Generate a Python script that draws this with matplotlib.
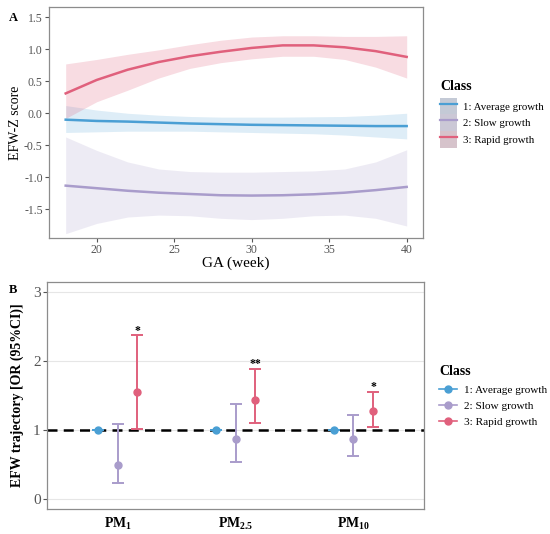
import numpy as np
import matplotlib
matplotlib.use("Agg")
import matplotlib.pyplot as plt
from matplotlib.lines import Line2D
from matplotlib.patches import Patch

plt.rcParams["font.family"] = ["Liberation Serif", "DejaVu Serif"]
plt.rcParams["mathtext.fontset"] = "custom"
plt.rcParams["mathtext.rm"] = "Liberation Serif"
plt.rcParams["mathtext.bf"] = "Liberation Serif:bold"

# ---- panel A data: smoothed EFW-Z trajectories ----
weeks = [18, 20, 22, 24, 26, 28, 30, 32, 34, 36, 38, 40]
avg_fit = [-0.10, -0.12, -0.13, -0.145, -0.16, -0.17, -0.18, -0.185, -0.19, -0.195, -0.20, -0.20]
avg_hi = [0.12, 0.05, 0.0, -0.03, -0.05, -0.06, -0.06, -0.06, -0.055, -0.05, -0.03, 0.0]
avg_lo = [-0.30, -0.29, -0.28, -0.28, -0.28, -0.29, -0.30, -0.31, -0.32, -0.34, -0.37, -0.40]
slow_fit = [-1.13, -1.17, -1.21, -1.24, -1.26, -1.28, -1.285, -1.28, -1.265, -1.24, -1.20, -1.15]
slow_hi = [-0.37, -0.58, -0.76, -0.87, -0.91, -0.92, -0.92, -0.91, -0.90, -0.87, -0.76, -0.57]
slow_lo = [-1.88, -1.72, -1.62, -1.59, -1.60, -1.64, -1.66, -1.64, -1.60, -1.59, -1.64, -1.76]
rapid_fit = [0.31, 0.52, 0.68, 0.80, 0.89, 0.96, 1.02, 1.06, 1.06, 1.03, 0.97, 0.88]
rapid_hi = [0.77, 0.84, 0.92, 0.99, 1.07, 1.14, 1.19, 1.21, 1.21, 1.20, 1.20, 1.21]
rapid_lo = [-0.08, 0.18, 0.36, 0.55, 0.70, 0.79, 0.85, 0.89, 0.89, 0.84, 0.72, 0.55]

# ---- panel B data: OR (95% CI) ----
pollutants = [r"$\mathbf{PM_{1}}$", r"$\mathbf{PM_{2.5}}$", r"$\mathbf{PM_{10}}$"]
avg_or = [1.0, 1.0, 1.0]
avg_ci_lo = [1.0, 1.0, 1.0]
avg_ci_hi = [1.0, 1.0, 1.0]
slow_or = [0.50, 0.87, 0.87]
slow_ci_lo = [0.23, 0.54, 0.62]
slow_ci_hi = [1.08, 1.37, 1.22]
rapid_or = [1.555, 1.435, 1.276]
rapid_ci_lo = [1.02, 1.10, 1.05]
rapid_ci_hi = [2.37, 1.88, 1.55]
rapid_stars = ["*", "**", "*"]

classes = ["1: Average growth", "2: Slow growth", "3: Rapid growth"]
colors = ["#4A9FD4", "#A99CCB", "#E0607C"]
band_alpha = [0.18, 0.2, 0.22]


def main():
    fig = plt.figure(figsize=(5.5, 5.34), dpi=100)
    fig.patch.set_facecolor("white")

    # ====
    # Panel A
    # ====
    ax = fig.add_axes([0.089, 0.554, 0.680, 0.433])
    series = [(avg_fit, avg_lo, avg_hi), (slow_fit, slow_lo, slow_hi), (rapid_fit, rapid_lo, rapid_hi)]
    for (fit, lo, hi), c, a in zip(series, colors, band_alpha):
        ax.fill_between(weeks, lo, hi, color=c, alpha=a, lw=0)
        ax.plot(weeks, fit, color=c, lw=1.8)
    ax.set_xlim(16.92, 41.05)
    ax.set_ylim(-1.95, 1.66)
    ax.set_xticks([20, 25, 30, 35, 40])
    ax.set_yticks([-1.5, -1.0, -0.5, 0.0, 0.5, 1.0, 1.5])
    ax.set_yticklabels(["-1.5", "-1.0", "-0.5", "0.0", "0.5", "1.0", "1.5"])
    ax.tick_params(labelsize=8.5, colors="#555555", length=3, width=0.8, pad=1.5)
    for s in ax.spines.values():
        s.set_color("#8C8C8C")
        s.set_linewidth(0.9)
    ax.set_xlabel("GA (week)", fontsize=11, labelpad=0)
    ax.set_ylabel("EFW-Z score", fontsize=10)
    ax.yaxis.set_label_coords(-0.072, 0.5)
    fig.text(0.016, 0.978, "A", fontsize=9, fontweight="bold", va="top")

    # legend title drawn on its own so the gap to the keys matches
    fig.text(0.8, 1 - 86 / 534, "Class", fontsize=10, fontweight="bold", va="center", ha="left")
    key_bg = ["#C4CAD6", "#CBC8D6", "#D6C3CB"]
    handles = [(Patch(fc=bg, ec="none"), Line2D([], [], color=c, lw=1.6)) for bg, c in zip(key_bg, colors)]
    fig.legend(handles, classes, loc="upper left", bbox_to_anchor=(0.8, 0.817),
               frameon=False, fontsize=7.8, handlelength=1.6, handleheight=2.0,
               handletextpad=0.55, labelspacing=0.0, borderaxespad=0, borderpad=0)

    # ====
    # Panel B
    # ====
    bx = fig.add_axes([0.0855, 0.047, 0.6855, 0.425])
    xpos = np.arange(1, len(pollutants) + 1)
    dodge = 1 / 6
    groups = [(avg_or, avg_ci_lo, avg_ci_hi), (slow_or, slow_ci_lo, slow_ci_hi),
              (rapid_or, rapid_ci_lo, rapid_ci_hi)]
    bx.axhline(1, color="black", lw=1.8, ls=(0, (4, 2.5)), zorder=2)
    for i, ((est, lo, hi), c) in enumerate(zip(groups, colors)):
        x = xpos + (i - 1) * dodge
        est = np.array(est)
        yerr = [est - np.array(lo), np.array(hi) - est]
        bx.errorbar(x, est, yerr=yerr, fmt="o", color=c, ms=5, elinewidth=1.4,
                    capsize=4.5, capthick=1.4, zorder=3)
    for x, hi, st in zip(xpos + dodge, rapid_ci_hi, rapid_stars):
        bx.text(x, hi + 0.025, st, ha="center", va="baseline", fontsize=8.5, fontweight="bold")
    bx.set_xlim(0.4, 3.6)
    bx.set_ylim(-0.14, 3.14)
    bx.set_yticks([0, 1, 2, 3])
    bx.yaxis.grid(True, color="#E6E6E6", lw=0.8)
    bx.set_axisbelow(True)
    bx.set_xticks(xpos)
    bx.set_xticklabels(pollutants, fontsize=10)
    bx.tick_params(axis="x", length=0, pad=5)
    bx.tick_params(axis="y", labelsize=11, colors="#555555", length=3, width=0.8, pad=1.5)
    for s in bx.spines.values():
        s.set_color("#8C8C8C")
        s.set_linewidth(0.9)
    bx.set_ylabel("EFW trajectory [OR (95%CI)]", fontsize=10, fontweight="bold")
    bx.yaxis.set_label_coords(-0.061, 0.5)
    fig.text(0.016, 0.468, "B", fontsize=9, fontweight="bold", va="top")

    handles_b = [Line2D([], [], color=c, marker="o", ms=5, lw=1.2) for c in colors]
    leg_b = fig.legend(handles_b, classes, title="Class", loc="upper left", bbox_to_anchor=(0.79, 0.324),
                       frameon=False, fontsize=8.1, title_fontsize=10, handlelength=1.6,
                       handletextpad=0.6, labelspacing=0.55, borderaxespad=0)
    leg_b.get_title().set_fontweight("bold")
    leg_b._legend_box.align = "left"

    fig.savefig("out.png", dpi=100)


if __name__ == "__main__":
    main()
